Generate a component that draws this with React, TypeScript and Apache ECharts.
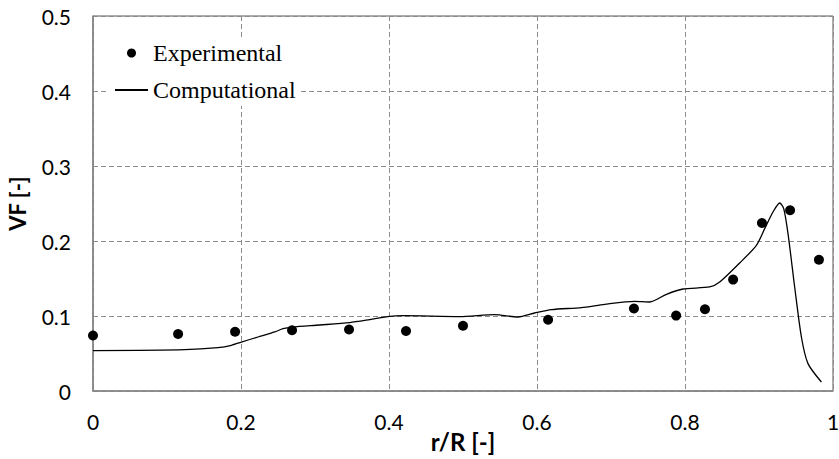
import React, { useEffect, useRef } from "react";
import * as echarts from "echarts";

// Measured void fraction along the radius
const expR = [0, 0.115, 0.192, 0.269, 0.346, 0.423, 0.5, 0.615, 0.731, 0.788, 0.827, 0.865, 0.904, 0.942, 0.981];
const expVF = [0.074, 0.076, 0.079, 0.081, 0.082, 0.08, 0.087, 0.095, 0.11, 0.1005, 0.109, 0.1485, 0.224, 0.241, 0.175];

// Simulated void fraction profile
const compR = [
  0, 0.124, 0.169, 0.187, 0.2005, 0.223, 0.2455, 0.2568, 0.2695, 0.3064, 0.3469, 0.3739, 0.401, 0.419,
  0.4955, 0.5428, 0.5743, 0.5969, 0.6195, 0.66, 0.6915, 0.732, 0.7523, 0.7749, 0.7973, 0.8334, 0.8469,
  0.8739, 0.8965, 0.9077, 0.9189, 0.928, 0.9334, 0.9392, 0.9482, 0.9573, 0.9662, 0.9843,
];
const compVF = [
  0.0539, 0.0552, 0.0579, 0.0609, 0.0653, 0.072, 0.0787, 0.0832, 0.0853, 0.088, 0.0912, 0.0952, 0.0996, 0.1005,
  0.0992, 0.1019, 0.0987, 0.104, 0.1085, 0.1112, 0.1156, 0.1196, 0.1187, 0.1289, 0.136, 0.1387, 0.1453,
  0.1707, 0.1943, 0.2165, 0.2387, 0.2507, 0.2432, 0.2099, 0.1387, 0.072, 0.0365, 0.012,
];

const xRange = { min: 0, max: 1, interval: 0.2 };
const yRange = { min: 0, max: 0.5, interval: 0.1 };

const labelFont = "Lato, 'Open Sans', sans-serif";
const legendFont = "'Liberation Serif', 'DejaVu Serif', serif";

export default function App() {
  const ref = useRef<HTMLDivElement>(null);

  useEffect(() => {
    if (!ref.current) return;
    const chart = echarts.init(ref.current, undefined, { renderer: "svg" });
    const gridLine = { show: true, lineStyle: { color: "#8c8c8c", type: [5, 3] as number[], width: 1 } };
    chart.setOption({
      animation: false,
      backgroundColor: "#ffffff",
      grid: {
        left: 93,
        right: 6,
        top: 16,
        bottom: 68,
        show: true,
        borderColor: "#595959",
        borderWidth: 1,
        containLabel: false,
        outerBoundsMode: "none",
      },
      legend: {
        orient: "vertical",
        left: 109,
        top: 37,
        padding: [4, 5, 4, 5],
        backgroundColor: "#ffffff",
        itemWidth: 33,
        itemHeight: 9,
        itemGap: 13,
        textStyle: { fontFamily: legendFont, fontSize: 24, color: "#000000" },
        data: [
          { name: "Experimental" },
          { name: "Computational", itemStyle: { color: "rgba(0,0,0,0)", borderWidth: 0, opacity: 0 } },
        ],
      },
      xAxis: {
        type: "value",
        ...xRange,
        name: "r/R [-]",
        nameLocation: "middle",
        nameGap: 38,
        nameMoveOverlap: false,
        nameTextStyle: { fontFamily: labelFont, fontSize: 24, fontWeight: "bold", color: "#000" },
        axisLine: { show: true, onZero: false, lineStyle: { color: "#868686", width: 1.5 } },
        axisTick: { show: false },
        axisLabel: { fontFamily: labelFont, fontSize: 21, color: "#000", margin: 20 },
        splitLine: gridLine,
      },
      yAxis: {
        type: "value",
        ...yRange,
        name: "VF [-]",
        nameLocation: "middle",
        nameGap: 65,
        nameMoveOverlap: false,
        nameTextStyle: { fontFamily: labelFont, fontSize: 22, fontWeight: "bold", color: "#000" },
        axisLine: { show: true, lineStyle: { color: "#868686", width: 1.5 } },
        axisTick: { show: false },
        axisLabel: { fontFamily: labelFont, fontSize: 21, color: "#000", margin: 22 },
        splitLine: gridLine,
      },
      series: [
        {
          name: "Experimental",
          type: "scatter",
          symbol: "circle",
          symbolSize: 10,
          itemStyle: { color: "#000000", opacity: 1 },
          data: expR.map((r, i) => [r, expVF[i]]),
          z: 3,
        },
        {
          name: "Computational",
          type: "line",
          symbol: "none",
          smooth: 0.25,
          lineStyle: { color: "#000000", width: 1.3 },
          itemStyle: { color: "#000000" },
          data: compR.map((r, i) => [r, compVF[i]]),
          z: 2,
        },
      ],
    });
    return () => chart.dispose();
  }, []);

  return <div ref={ref} style={{ width: 839, height: 459, position: "absolute", left: 0, top: 0 }} />;
}
